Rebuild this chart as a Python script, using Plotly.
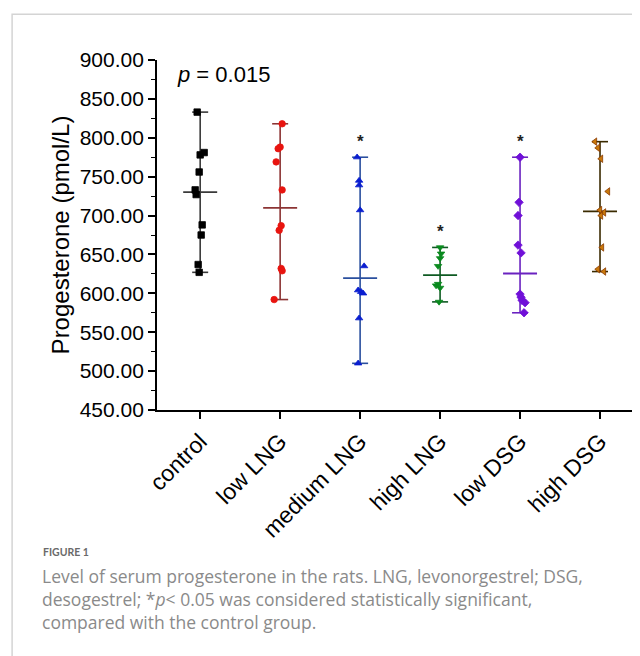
import plotly.graph_objects as go
import numpy as np

categories = ["control", "low LNG", "medium LNG", "high LNG", "low DSG", "high DSG"]

control = [833, 781, 778, 756, 733, 727, 688, 675, 637, 627]
low_lng = [818, 788, 786, 769, 733, 687, 681, 632, 629, 592]
medium_lng = [775, 745, 739, 707, 635, 604, 602, 600, 568, 510]
high_lng = [659, 651, 645, 635, 612, 610, 607, 589]
low_dsg = [775, 717, 700, 662, 652, 599, 595, 591, 588, 575]
high_dsg = [795, 787, 773, 731, 707, 704, 700, 659, 631, 628]

groups = [control, low_lng, medium_lng, high_lng, low_dsg, high_dsg]
significant = [False, False, True, True, True, False]
p_text = "<i>p</i> = 0.015"

# horizontal jitter (styling), in pixels
jitter_px = [
    [-3, 4, 0, -1, -5, -4, 2, 1, -2, -1],
    [2, 0, -2, -4, 2, 1, -1, 1, 2, -6],
    [-3, -1, -1, 0, 4, -2, 1, 3, -1, -2],
    [0, 1, 0, -2, -2, -4, 0, -1],
    [0, -1, -2, -2, 1, 0, 1, 2, 5, 4],
    [-5, -2, 1, 8, 0, 4, 1, 2, -2, 4],
]
marker_symbols = ["square", "circle", "triangle-up", "triangle-down", "diamond", "triangle-left"]
marker_colors = ["#000000", "#e8140f", "#0a1ed0", "#0a8a1e", "#7010d8", "#c8780a"]
marker_lines = ["#000000", "#e8140f", "#0a1ed0", "#0a8a1e", "#7010d8", "#8a3a00"]
line_colors = ["#3a3a3a", "#8c3434", "#2a4f9e", "#0e5a22", "#6a22c0", "#3a2a00"]

FONT = "Liberation Sans"
PX = 80.0  # pixels per category
fig = go.Figure()

for i, vals in enumerate(groups):
    vals_arr = np.array(vals, dtype=float)
    vmin, vmax, med = vals_arr.min(), vals_arr.max(), float(np.median(vals_arr))
    cap = 8 / PX
    half = 17 / PX
    lc = line_colors[i]
    fig.add_trace(go.Scatter(x=[i, i], y=[vmin, vmax], mode="lines",
                             line=dict(color=lc, width=1.6), hoverinfo="skip", showlegend=False))
    for v in (vmin, vmax):
        fig.add_trace(go.Scatter(x=[i - cap, i + cap], y=[v, v], mode="lines",
                                 line=dict(color=lc, width=1.6), hoverinfo="skip", showlegend=False))
    fig.add_trace(go.Scatter(x=[i - half, i + half], y=[med, med], mode="lines",
                             line=dict(color=lc, width=1.8), hoverinfo="skip", showlegend=False))
    xs = [i + j / PX for j in jitter_px[i]]
    fig.add_trace(go.Scatter(x=xs, y=vals, mode="markers", showlegend=False,
                             marker=dict(symbol=marker_symbols[i], size=6.5, color=marker_colors[i],
                                         line=dict(color=marker_lines[i], width=0.8))))
    if significant[i]:
        fig.add_annotation(x=i, y=vmax, yanchor="bottom", yshift=4, text="<b>*</b>", showarrow=False,
                           font=dict(family=FONT, size=17, color="#222"))

fig.add_annotation(x=0.037, xref="paper", y=881, yanchor="middle", xanchor="left",
                   text=p_text, showarrow=False,
                   font=dict(family=FONT, size=22, color="#000"))

# frame
fig.add_shape(type="rect", xref="paper", yref="paper", x0=-0.3, x1=1.2, y0=-0.9, y1=1.131,
              line=dict(color="#d4d4d4", width=1.5), fillcolor="rgba(0,0,0,0)", layer="below")

# caption
fig.add_annotation(xref="paper", yref="paper", x=(41 - 157) / 483, y=(410 - 552) / 350,
                   xanchor="left", yanchor="middle", showarrow=False, text="<b>FIGURE 1</b>",
                   font=dict(family="Lato", size=10.5, color="#6a6a6a"))
caption_lines = [
    "Level of serum progesterone in the rats. LNG, levonorgestrel; DSG,",
    "desogestrel; *<i>p</i>< 0.05 was considered statistically significant,",
    "compared with the control group.",
]
fig.add_annotation(xref="paper", yref="paper", x=(40 - 157) / 483, y=(410 - 598.5) / 350,
                   xanchor="left", yanchor="middle", align="left", showarrow=False,
                   text="<br>".join(caption_lines),
                   font=dict(family="Open Sans", size=17.5, color="#8a8a8a"))

fig.update_layout(
    width=632, height=648,
    margin=dict(l=149, r=0, t=52, b=246),
    paper_bgcolor="white", plot_bgcolor="white",
    font=dict(family=FONT, color="#000"),
    xaxis=dict(range=[-0.54, 5.5], tickmode="array", tickvals=list(range(6)), ticktext=categories,
               tickangle=-45, ticks="outside", ticklen=7, tickwidth=1.6, tickcolor="#000",
               showline=True, linecolor="#000", linewidth=1.8, showgrid=False, zeroline=False,
               tickfont=dict(size=23, family=FONT)),
    yaxis=dict(range=[450, 900], tickmode="linear", tick0=450, dtick=50, tickformat=".2f",
               ticks="outside", ticklen=7, tickwidth=1.6, tickcolor="#000",
               minor=dict(dtick=25, ticks="outside", ticklen=4, tickwidth=1.4, tickcolor="#000"),
               showline=True, linecolor="#000", linewidth=1.8, showgrid=False, zeroline=False,
               tickfont=dict(size=21, family=FONT),
               title=dict(text="Progesterone (pmol/L)", font=dict(size=24, family=FONT),
                          standoff=3)),
)

fig.write_html("out.html")
